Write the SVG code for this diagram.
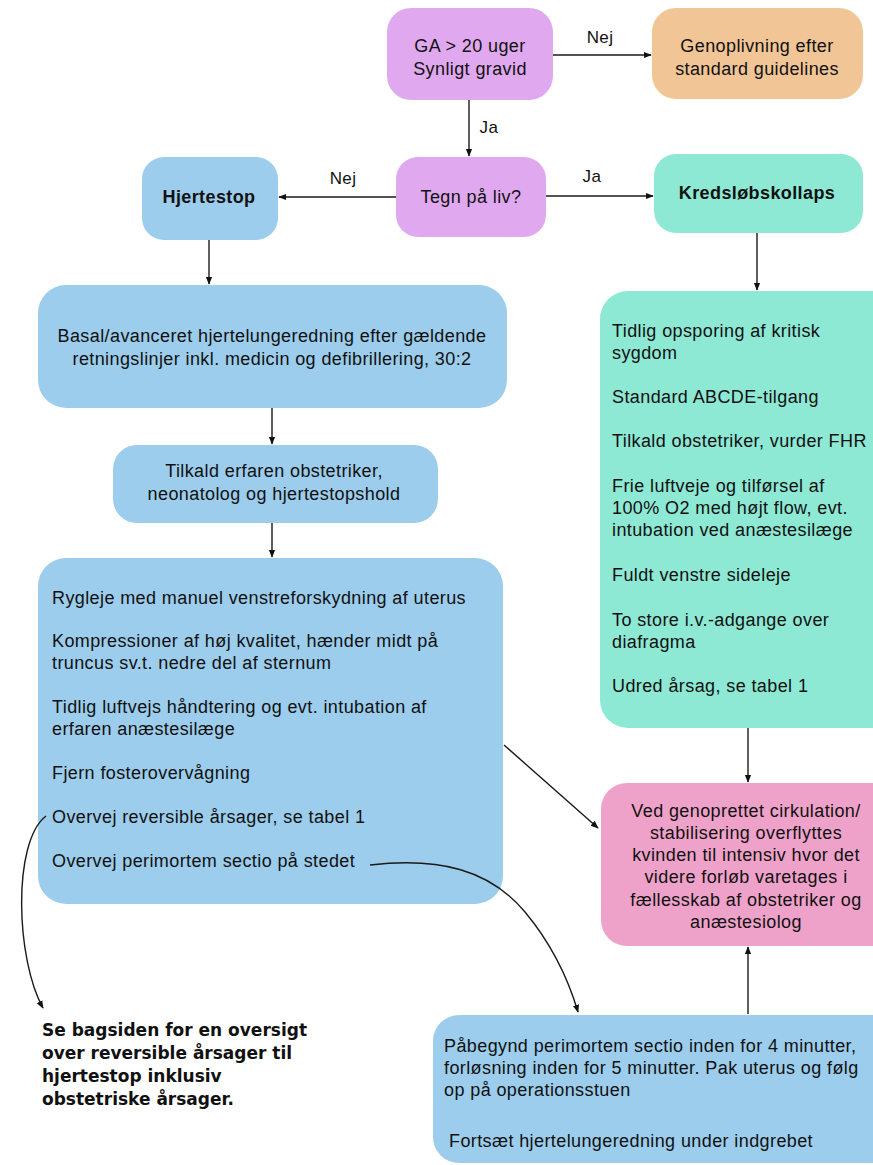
<svg xmlns="http://www.w3.org/2000/svg" width="873" height="1165" viewBox="0 0 873 1165">
<defs>
<marker id="ah" viewBox="0 0 10 10" refX="9" refY="5" markerWidth="8" markerHeight="8" markerUnits="userSpaceOnUse" orient="auto">
<path d="M0,1 L10,5 L0,9 Z" fill="#111"/>
</marker>
<style>
text{font-family:"Liberation Sans",Arial,sans-serif;font-size:18px;fill:#111;letter-spacing:0.4px}
.c{text-anchor:middle}
.b{font-weight:bold}
.bold2{font-family:"DejaVu Sans",Verdana,sans-serif;font-weight:bold;font-size:17px;letter-spacing:0}
.lbl{font-size:17px}
.purple{fill:#e0a9ef}
.tan{fill:#f1c596}
.blue{fill:#9ccdec}
.green{fill:#8de8d4}
.pink{fill:#efa2c9}
.con{stroke:#1a1a1a;stroke-width:1.4;fill:none;marker-end:url(#ah)}
</style>
</defs>
<rect width="873" height="1165" fill="#ffffff"/>

<g id="ga">
<rect class="purple" x="387" y="8" width="166" height="92" rx="24"/>
<text class="c" x="470" y="52">GA &gt; 20 uger</text>
<text class="c" x="470" y="75">Synligt gravid</text>
</g>

<g id="genoplivning">
<rect class="tan" x="652" y="8" width="211" height="91" rx="24"/>
<text class="c" x="757" y="52">Genoplivning efter</text>
<text class="c" x="757" y="75">standard guidelines</text>
</g>

<g id="tegn">
<rect class="purple" x="396" y="157" width="150" height="80" rx="22"/>
<text class="c" x="471" y="203">Tegn på liv?</text>
</g>

<g id="hjertestop">
<rect class="blue" x="142" y="157" width="136" height="83" rx="22"/>
<text class="c b" x="209" y="203">Hjertestop</text>
</g>

<g id="kredslobskollaps">
<rect class="green" x="654" y="154" width="209" height="79" rx="22"/>
<text class="c b" x="757" y="199">Kredsløbskollaps</text>
</g>

<g id="basal">
<rect class="blue" x="38" y="285" width="469" height="123" rx="28"/>
<text class="c" x="272" y="342">Basal/avanceret hjertelungeredning efter gældende</text>
<text class="c" x="272" y="365">retningslinjer inkl. medicin og defibrillering, 30:2</text>
</g>

<g id="tilkald">
<rect class="blue" x="113" y="445" width="325" height="78" rx="24"/>
<text class="c" x="274" y="477">Tilkald erfaren obstetriker,</text>
<text class="c" x="274" y="500">neonatolog og hjertestopshold</text>
</g>

<g id="tiltag">
<rect class="blue" x="38" y="558" width="465" height="346" rx="28"/>
<text x="52" y="604">Rygleje med manuel venstreforskydning af uterus</text>
<text x="52" y="647">Kompressioner af høj kvalitet, hænder midt på</text>
<text x="52" y="669">truncus sv.t. nedre del af sternum</text>
<text x="52" y="713">Tidlig luftvejs håndtering og evt. intubation af</text>
<text x="52" y="735">erfaren anæstesilæge</text>
<text x="52" y="779">Fjern fosterovervågning</text>
<text x="52" y="823">Overvej reversible årsager, se tabel 1</text>
<text x="52" y="867">Overvej perimortem sectio på stedet</text>
</g>

<g id="kredslob-tiltag">
<rect class="green" x="600" y="291" width="300" height="437" rx="28"/>
<text x="612" y="337">Tidlig opsporing af kritisk</text>
<text x="612" y="359">sygdom</text>
<text x="612" y="403">Standard ABCDE-tilgang</text>
<text x="612" y="447">Tilkald obstetriker, vurder FHR</text>
<text x="612" y="492">Frie luftveje og tilførsel af</text>
<text x="612" y="514">100% O2 med højt flow, evt.</text>
<text x="612" y="536">intubation ved anæstesilæge</text>
<text x="612" y="581">Fuldt venstre sideleje</text>
<text x="612" y="626">To store i.v.-adgange over</text>
<text x="612" y="648">diafragma</text>
<text x="612" y="692">Udred årsag, se tabel 1</text>
</g>

<g id="intensiv">
<rect class="pink" x="601" y="783" width="300" height="163" rx="26"/>
<text class="c" x="746" y="817">Ved genoprettet cirkulation/</text>
<text class="c" x="746" y="839">stabilisering overflyttes</text>
<text class="c" x="746" y="861">kvinden til intensiv hvor det</text>
<text class="c" x="746" y="883">videre forløb varetages i</text>
<text class="c" x="746" y="906">fællesskab af obstetriker og</text>
<text class="c" x="746" y="928">anæstesiolog</text>
</g>

<g id="sectio">
<rect class="blue" x="433" y="1015" width="470" height="148" rx="26"/>
<text x="444" y="1052">Påbegynd perimortem sectio inden for 4 minutter,</text>
<text x="444" y="1074">forløsning inden for 5 minutter. Pak uterus og følg</text>
<text x="444" y="1096">op på operationsstuen</text>
<text x="449" y="1147">Fortsæt hjertelungeredning under indgrebet</text>
</g>

<g id="note">
<text class="bold2" x="42" y="1036">Se bagsiden for en oversigt</text>
<text class="bold2" x="42" y="1059">over reversible årsager til</text>
<text class="bold2" x="42" y="1082">hjertestop inklusiv</text>
<text class="bold2" x="42" y="1105">obstetriske årsager.</text>
</g>

<g id="connectors">
<line class="con" x1="553" y1="55" x2="651" y2="55"/>
<line class="con" x1="469" y1="100" x2="469" y2="156"/>
<line class="con" x1="396" y1="197" x2="279" y2="197"/>
<line class="con" x1="546" y1="196" x2="653" y2="196"/>
<line class="con" x1="209" y1="240" x2="209" y2="284"/>
<line class="con" x1="757" y1="233" x2="757" y2="290"/>
<line class="con" x1="272" y1="408" x2="272" y2="444"/>
<line class="con" x1="272" y1="523" x2="272" y2="557"/>
<line class="con" x1="748" y1="728" x2="748" y2="782"/>
<line class="con" x1="748" y1="1014" x2="748" y2="947"/>
<line class="con" x1="504" y1="745" x2="598" y2="828"/>
<path class="con" d="M46,816 C12,842 16,960 43,1008"/>
<path class="con" d="M370,865 C440,857 490,870 525,912 C555,948 570,985 578,1012"/>
<text class="lbl" x="600" y="43" text-anchor="middle">Nej</text>
<text class="lbl" x="489" y="133" text-anchor="middle">Ja</text>
<text class="lbl" x="343" y="184" text-anchor="middle">Nej</text>
<text class="lbl" x="592" y="182" text-anchor="middle">Ja</text>
</g>
</svg>
